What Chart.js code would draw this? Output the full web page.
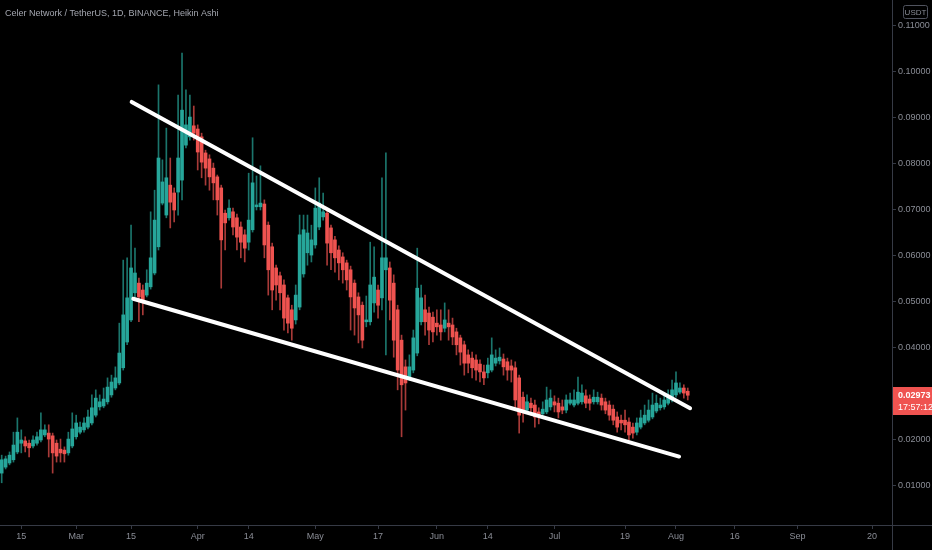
<!DOCTYPE html>
<html>
<head>
<meta charset="utf-8">
<script src="https://cdn.jsdelivr.net/npm/chart.js@4.4.1/dist/chart.umd.min.js"></script>
<style>
  html, body { margin: 0; padding: 0; background: #000; }
  #wrap { width: 932px; height: 550px; }
</style>
</head>
<body>
<div id="wrap"><canvas id="chart" width="932" height="550"></canvas></div>
<script>
// CELR/USDT daily Heikin Ashi candles, one per day starting Feb 10
const title = 'Celer Network / TetherUS, 1D, BINANCE, Heikin Ashi';
const quote = 'USDT';
const timer = '17:57:12';

const opens = [
  .0128, .0141, .0150, .0157, .0174, .0193, .0198, .0193, .0187, .0193,
  .0200, .0211, .0215, .0209, .0193, .0180, .0178, .0172, .0187, .0207,
  .0217, .0222, .0228, .0237, .0254, .0272, .0274, .0283, .0298, .0313,
  .0324, .0357, .0413, .0461, .0520, .0541, .0526, .0515, .0533, .0563,
  .0620, .0715, .0689, .0754, .0737, .0739, .0765, .0841, .0859, .0883,
  .0876, .0859, .0824, .0811, .0791, .0772, .0748, .0693, .0683, .0696,
  .0683, .0663, .0646, .0630, .0657, .0707, .0707, .0713, .0667, .0620,
  .0574, .0557, .0537, .0509, .0483, .0461, .0489, .0561, .0607, .0602,
  .0624, .0663, .0685, .0693, .0661, .0635, .0613, .0598, .0585, .0570,
  .0541, .0511, .0493, .0457, .0457, .0498, .0526, .0509, .0570, .0574,
  .0541, .0483, .0417, .0359, .0337, .0352, .0389, .0457, .0483, .0476,
  .0467, .0454, .0450, .0443, .0454, .0450, .0435, .0422, .0407, .0385,
  .0378, .0374, .0365, .0348, .0346, .0352, .0367, .0372, .0376, .0370,
  .0361, .0357, .0335, .0293, .0265, .0280, .0276, .0261, .0257, .0261,
  .0272, .0283, .0280, .0272, .0265, .0280, .0276, .0280, .0283, .0296,
  .0289, .0283, .0283, .0291, .0283, .0276, .0267, .0250, .0243, .0243,
  .0239, .0228, .0217, .0228, .0237, .0243, .0250, .0263, .0270, .0272,
  .0280, .0287, .0298, .0304, .0313, .0306
];
const highs = [
  .0167, .0165, .0174, .0217, .0248, .0222, .0207, .0200, .0209, .0217,
  .0259, .0233, .0233, .0215, .0200, .0202, .0185, .0217, .0259, .0254,
  .0239, .0248, .0265, .0298, .0309, .0298, .0313, .0335, .0341, .0359,
  .0454, .0591, .0596, .0667, .0617, .0552, .0537, .0570, .0696, .0743,
  .0972, .0809, .0878, .0813, .0748, .0950, .1041, .0961, .0950, .0926,
  .0885, .0867, .0830, .0820, .0802, .0776, .0754, .0700, .0722, .0704,
  .0691, .0674, .0657, .0780, .0857, .0774, .0796, .0722, .0674, .0628,
  .0580, .0565, .0548, .0515, .0493, .0537, .0689, .0689, .0689, .0667,
  .0748, .0770, .0737, .0700, .0667, .0643, .0622, .0607, .0591, .0578,
  .0548, .0520, .0500, .0513, .0630, .0620, .0537, .0770, .0824, .0587,
  .0559, .0493, .0428, .0374, .0385, .0439, .0617, .0537, .0515, .0489,
  .0478, .0483, .0483, .0498, .0483, .0465, .0443, .0428, .0415, .0396,
  .0391, .0385, .0374, .0363, .0378, .0422, .0396, .0400, .0387, .0378,
  .0374, .0370, .0341, .0304, .0298, .0291, .0287, .0270, .0283, .0315,
  .0309, .0296, .0291, .0287, .0298, .0302, .0309, .0337, .0320, .0309,
  .0298, .0309, .0304, .0300, .0291, .0285, .0276, .0261, .0254, .0265,
  .0248, .0237, .0248, .0265, .0276, .0287, .0302, .0298, .0291, .0300,
  .0309, .0330, .0348, .0324, .0320, .0313
];
const lows = [
  .0107, .0137, .0146, .0152, .0170, .0172, .0174, .0163, .0183, .0189,
  .0196, .0207, .0163, .0128, .0152, .0152, .0152, .0167, .0183, .0202,
  .0213, .0217, .0224, .0233, .0250, .0265, .0270, .0278, .0293, .0309,
  .0320, .0352, .0407, .0457, .0511, .0457, .0472, .0511, .0528, .0559,
  .0613, .0711, .0683, .0661, .0674, .0689, .0722, .0835, .0852, .0852,
  .0787, .0770, .0754, .0743, .0722, .0689, .0530, .0613, .0678, .0646,
  .0613, .0596, .0587, .0613, .0652, .0700, .0700, .0596, .0515, .0483,
  .0504, .0483, .0439, .0433, .0417, .0452, .0483, .0554, .0580, .0587,
  .0617, .0657, .0678, .0580, .0570, .0565, .0548, .0541, .0526, .0439,
  .0428, .0411, .0400, .0446, .0450, .0478, .0465, .0483, .0385, .0461,
  .0380, .0309, .0207, .0265, .0330, .0346, .0383, .0450, .0428, .0407,
  .0413, .0428, .0417, .0435, .0417, .0407, .0385, .0363, .0341, .0346,
  .0335, .0330, .0326, .0320, .0335, .0348, .0361, .0365, .0341, .0330,
  .0326, .0265, .0215, .0239, .0259, .0254, .0228, .0235, .0252, .0257,
  .0265, .0261, .0248, .0257, .0259, .0276, .0272, .0276, .0278, .0270,
  .0265, .0278, .0278, .0265, .0257, .0243, .0233, .0217, .0222, .0217,
  .0200, .0204, .0211, .0224, .0233, .0239, .0246, .0259, .0265, .0267,
  .0276, .0283, .0293, .0300, .0291, .0287
];
const closes = [
  .0157, .0159, .0167, .0189, .0217, .0200, .0187, .0183, .0200, .0207,
  .0222, .0222, .0202, .0172, .0165, .0172, .0170, .0202, .0224, .0237,
  .0228, .0237, .0250, .0270, .0291, .0283, .0289, .0315, .0326, .0335,
  .0389, .0472, .0509, .0574, .0563, .0511, .0504, .0541, .0596, .0678,
  .0813, .0761, .0770, .0717, .0700, .0813, .0917, .0885, .0902, .0867,
  .0826, .0804, .0791, .0772, .0759, .0722, .0635, .0672, .0704, .0663,
  .0641, .0630, .0617, .0678, .0759, .0711, .0715, .0624, .0570, .0526,
  .0537, .0520, .0465, .0454, .0443, .0515, .0646, .0657, .0650, .0635,
  .0704, .0715, .0696, .0628, .0607, .0596, .0585, .0570, .0548, .0511,
  .0487, .0472, .0417, .0461, .0537, .0554, .0493, .0596, .0596, .0504,
  .0417, .0352, .0320, .0324, .0359, .0422, .0530, .0509, .0457, .0439,
  .0435, .0446, .0435, .0461, .0446, .0424, .0407, .0391, .0367, .0367,
  .0357, .0352, .0348, .0335, .0363, .0385, .0378, .0380, .0359, .0352,
  .0352, .0287, .0254, .0261, .0283, .0270, .0250, .0250, .0267, .0287,
  .0291, .0276, .0261, .0265, .0287, .0287, .0287, .0304, .0302, .0280,
  .0280, .0293, .0293, .0276, .0265, .0254, .0243, .0228, .0237, .0233,
  .0211, .0215, .0237, .0248, .0254, .0265, .0276, .0280, .0276, .0287,
  .0293, .0309, .0324, .0313, .0302, .02973
];

// day offsets (from Feb 10) of the date labels along the bottom
const tickDays = [5, 19, 33, 50, 63, 80, 96, 111, 124, 141, 159, 172, 187, 203, 222];
const tickLabels = ['15', 'Mar', '15', 'Apr', '14', 'May', '17', 'Jun', '14', 'Jul', '19', 'Aug', '16', 'Sep', '20'];
const priceTicks = [0.01, 0.02, 0.03, 0.04, 0.05, 0.06, 0.07, 0.08, 0.09, 0.10, 0.11];

// hand-drawn wedge: [day, price] end points
const upperLine = [[33.16, 0.0935], [175.6, 0.0269]];
const lowerLine = [[33.57, 0.0507], [172.8, 0.0164]];

const UP = '#26a69a', DOWN = '#ef5350';
const UP_WICK = 'rgba(38,166,154,0.7)', DOWN_WICK = 'rgba(239,83,80,0.7)';
const AXIS = '#363a45';
const TEXT = '#8a8d96';
const FONT = "'Liberation Sans', Arial, sans-serif";

const isUp = opens.map((o, i) => closes[i] >= o);
const bodies = opens.map((o, i) => ({ x: i, y: [o, closes[i]] }));
const wicks = opens.map((o, i) => ({ x: i, y: [lows[i], highs[i]] }));
const toPoints = line => line.map(p => ({ x: p[0], y: p[1] }));

const tvDecor = {
    id: 'tvDecor',
    beforeDraw(chart) {
        const ctx = chart.ctx;
        ctx.save();
        ctx.fillStyle = '#000';
        ctx.fillRect(0, 0, chart.width, chart.height);
        ctx.restore();
    },
    afterDraw(chart) {
        const ctx = chart.ctx;
        const area = chart.chartArea;
        const yScale = chart.scales.y;
        ctx.save();

        // axis separators run edge to edge
        ctx.strokeStyle = AXIS;
        ctx.lineWidth = 1;
        ctx.beginPath();
        ctx.moveTo(0, area.bottom + 0.5);
        ctx.lineTo(chart.width, area.bottom + 0.5);
        ctx.moveTo(area.right + 0.5, 0);
        ctx.lineTo(area.right + 0.5, chart.height);
        ctx.stroke();

        // symbol caption
        ctx.fillStyle = '#a3a6af';
        ctx.font = '9px ' + FONT;
        ctx.textBaseline = 'middle';
        ctx.textAlign = 'left';
        ctx.fillText(title, 5, 14);

        // quote currency badge
        ctx.strokeStyle = '#50535e';
        ctx.beginPath();
        ctx.roundRect(903.5, 5.5, 24, 13, 2);
        ctx.stroke();
        ctx.fillStyle = TEXT;
        ctx.font = '8px ' + FONT;
        ctx.textAlign = 'center';
        ctx.fillText(quote, 915.5, 12.5);

        // last price badge with countdown
        const last = closes[closes.length - 1];
        const py = Math.round(yScale.getPixelForValue(last));
        ctx.fillStyle = DOWN;
        ctx.fillRect(area.right + 1, py - 8, chart.width - area.right - 1, 28);
        ctx.fillStyle = '#fff';
        ctx.textAlign = 'left';
        ctx.font = 'bold 9px ' + FONT;
        ctx.fillText(last.toFixed(5), 898, py + 1);
        ctx.font = '9px ' + FONT;
        ctx.fillText(timer, 898, py + 13);

        ctx.restore();
    }
};

new Chart(document.getElementById('chart'), {
    type: 'bar',
    data: {
        datasets: [
            {
                type: 'line',
                data: toPoints(upperLine),
                borderColor: '#fff',
                borderWidth: 4,
                borderCapStyle: 'round',
                pointRadius: 0,
                order: 0
            },
            {
                type: 'line',
                data: toPoints(lowerLine),
                borderColor: '#fff',
                borderWidth: 4,
                borderCapStyle: 'round',
                pointRadius: 0,
                order: 0
            },
            {
                data: bodies,
                backgroundColor: isUp.map(u => u ? UP : DOWN),
                barThickness: 3,
                minBarLength: 1,
                grouped: false,
                order: 1
            },
            {
                data: wicks,
                backgroundColor: isUp.map(u => u ? UP_WICK : DOWN_WICK),
                barThickness: 1,
                grouped: false,
                order: 2
            }
        ]
    },
    options: {
        responsive: false,
        animation: false,
        devicePixelRatio: 1,
        layout: { padding: 0 },
        plugins: {
            legend: { display: false },
            tooltip: { enabled: false }
        },
        scales: {
            x: {
                type: 'linear',
                position: 'bottom',
                offset: false,
                min: -0.43,
                max: 227.1,
                grid: { offset: false, drawOnChartArea: false, drawTicks: true, tickLength: 4, color: AXIS },
                border: { display: false },
                ticks: {
                    autoSkip: false,
                    maxRotation: 0,
                    minRotation: 0,
                    padding: 2,
                    color: TEXT,
                    font: { family: FONT, size: 9 },
                    callback: v => tickLabels[tickDays.indexOf(v)]
                },
                afterBuildTicks: s => { s.ticks = tickDays.map(v => ({ value: v })); },
                afterFit: s => { s.height = 25; s.paddingLeft = 0; s.paddingRight = 0; }
            },
            y: {
                type: 'linear',
                position: 'right',
                min: 0.00152,
                max: 0.11565,
                grid: { drawOnChartArea: false, drawTicks: true, tickLength: 4, color: AXIS },
                border: { display: false },
                ticks: {
                    padding: 2,
                    color: TEXT,
                    font: { family: FONT, size: 9 },
                    callback: v => v.toFixed(5)
                },
                afterBuildTicks: s => { s.ticks = priceTicks.map(v => ({ value: v })); },
                afterFit: s => { s.width = 40; s.paddingTop = 0; s.paddingBottom = 0; }
            }
        }
    },
    plugins: [tvDecor]
});
</script>
</body>
</html>
